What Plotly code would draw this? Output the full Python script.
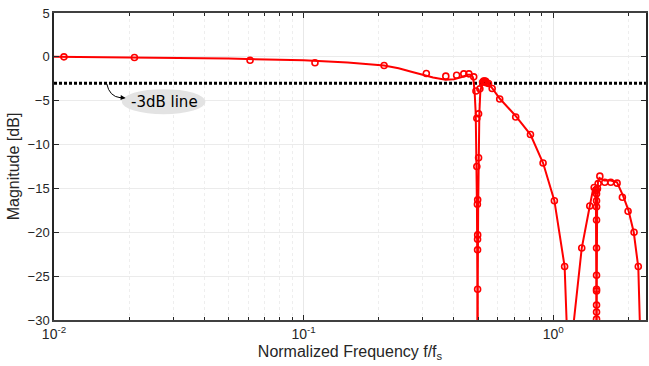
import plotly.graph_objects as go

# Magnitude response: smooth curve
curve_f = [0.01, 0.02, 0.05, 0.1, 0.15, 0.21, 0.24, 0.27, 0.3, 0.33, 0.37, 0.40, 0.43,
           0.455, 0.47, 0.476,
           0.479, 0.484, 0.489, 0.492, 0.4945, 0.4962, 0.4973, 0.4984, 0.5002, 0.5025,
           0.5055, 0.51, 0.518, 0.527, 0.537, 0.55, 0.57, 0.61, 0.70, 0.81, 0.91, 1.01,
           1.11, 1.13, 1.16,
           1.19, 1.21, 1.30, 1.40, 1.445, 1.47, 1.482, 1.486, 1.49, 1.494, 1.498, 1.51,
           1.53, 1.6, 1.7, 1.8, 1.9, 2.0, 2.1, 2.19, 2.22, 2.25]
curve_db = [0.0, -0.05, -0.2, -0.4, -0.65, -0.98, -1.3, -1.7, -2.05, -2.35, -2.6, -2.55, -2.3,
            -2.05, -2.05, -2.3,
            -2.7, -4.0, -6.5, -11.0, -17.0, -25.0, -50.0, -25.0, -17.0, -11.0,
            -6.5, -4.0, -3.0, -2.75, -2.85, -3.1, -3.6, -4.75, -6.6, -8.86, -12.1, -16.4,
            -23.9, -30.0, -40.0,
            -40.0, -30.0, -21.8, -17.0, -15.0, -14.8, -17.0, -25.0, -50.0, -25.0, -17.0, -14.2,
            -13.8, -14.1, -14.1, -14.3, -15.8, -17.5, -20.0, -24.0, -30.0, -40.0]

# Sampled points (circles)
samp_f = [0.01096, 0.0210, 0.061, 0.111, 0.21, 0.31, 0.371, 0.41, 0.438, 0.459, 0.48,
          0.490, 0.508, 0.521, 0.526, 0.531, 0.536, 0.539, 0.55, 0.569, 0.61, 0.707,
          0.81, 0.91, 1.01, 1.11,
          0.494, 0.494, 0.4965, 0.4973, 0.4973,
          0.502, 0.502, 0.4978, 0.4978, 0.4975,
          1.30, 1.40, 1.458, 1.481, 1.503, 1.512, 1.536, 1.608, 1.699, 1.801, 1.891,
          1.993, 2.106, 2.190,
          1.49, 1.49, 1.49, 1.49, 1.49, 1.49, 1.49, 1.49, 1.49, 1.49, 1.49, 1.49]
samp_db = [0.0, -0.08, -0.38, -0.68, -0.98, -1.9, -2.2, -2.1, -1.94, -1.94, -2.28,
           -3.9, -3.65, -2.9, -2.75, -2.75, -2.8, -2.95, -3.04, -3.6, -4.8, -6.85,
           -8.86, -12.1, -16.4, -23.9,
           -7.0, -12.5, -16.8, -20.8, -22.0,
           -6.5, -11.5, -16.3, -20.3, -26.5,
           -21.8, -17.0, -14.9, -15.2, -15.0, -14.45, -13.6, -14.3, -14.3, -14.4, -16.0,
           -17.6, -20.0, -23.9,
           -15.2, -15.6, -16.4, -17.1, -18.6, -21.8, -24.9, -26.5, -26.7, -28.3, -29.1, -29.9]

# -3 dB reference level
ref_f = [0.01, 2.35]
ref_db = [-3, -3]

x_major = [0.01, 0.1, 1]
x_major_text = ["10<sup>-2</sup>", "10<sup>-1</sup>", "10<sup>0</sup>"]
x_minor = [0.02, 0.03, 0.04, 0.05, 0.06, 0.07, 0.08, 0.09,
           0.2, 0.3, 0.4, 0.5, 0.6, 0.7, 0.8, 0.9, 2]
y_ticks = [5, 0, -5, -10, -15, -20, -25, -30]

RED = "#ff0000"
AX = "#262626"

fig = go.Figure()
fig.add_trace(go.Scatter(x=ref_f, y=ref_db, mode="lines",
                         line=dict(color="black", width=3, dash="3px,2px"),
                         hoverinfo="skip"))
fig.add_trace(go.Scatter(x=curve_f, y=curve_db, mode="lines",
                         line=dict(color=RED, width=2)))
fig.add_trace(go.Scatter(x=samp_f, y=samp_db, mode="markers",
                         marker=dict(symbol="circle-open", size=6, color=RED,
                                     line=dict(color=RED, width=1.6))))

# callout for the reference line
fig.add_shape(type="circle", xref="paper", yref="paper",
              x0=0.1145, x1=0.2559, y0=0.670, y1=0.752,
              fillcolor="#e3e3e3", line=dict(width=0), layer="above")
fig.add_shape(type="path", xref="paper", yref="paper",
              path="M 0.0892 0.769 Q 0.0935 0.728 0.112 0.724",
              line=dict(color="black", width=1))
fig.add_annotation(xref="paper", yref="paper", x=0.121, y=0.7235, ax=-8, ay=-0.5,
                   text="", showarrow=True, arrowhead=2, arrowsize=1,
                   arrowwidth=1, arrowcolor="black")
fig.add_annotation(xref="paper", yref="paper", x=0.187, y=0.711,
                   xanchor="center", yanchor="middle",
                   text="-3dB line", showarrow=False,
                   font=dict(family="DejaVu Sans", size=15, color="black"))

fig.update_layout(
    width=649, height=366,
    margin=dict(l=54, r=1, t=13, b=46),
    paper_bgcolor="white", plot_bgcolor="white",
    showlegend=False,
    font=dict(family="Liberation Sans", size=13, color=AX),
)
fig.update_xaxes(
    type="log", range=[-2, 0.3713],
    tickvals=x_major, ticktext=x_major_text,
    ticks="inside", ticklen=5, tickcolor=AX, tickwidth=1,
    showgrid=True, gridcolor="#e8e8e8", gridwidth=1,
    showline=True, linecolor="#404040", linewidth=1.5, mirror="ticks",
    zeroline=False,
    tickfont=dict(family="Liberation Sans", size=14, color=AX),
    minor=dict(tickvals=x_minor, ticks="inside", ticklen=3, tickcolor=AX,
               showgrid=True, gridcolor="#eeeeee", griddash="dot", gridwidth=1),
    title=dict(text="Normalized Frequency f/f<sub>s</sub>", standoff=5,
               font=dict(family="Liberation Sans", size=16, color=AX)),
)
fig.update_yaxes(
    range=[-30, 5], tickvals=y_ticks,
    ticks="inside", ticklen=5, tickcolor=AX, tickwidth=1,
    showgrid=True, gridcolor="#ebebeb", gridwidth=1,
    showline=True, linecolor=AX, linewidth=1.5, mirror="ticks",
    zeroline=False,
    tickfont=dict(family="Liberation Sans", size=13, color=AX),
    title=dict(text="Magnitude [dB]", standoff=4,
               font=dict(family="Liberation Sans", size=16, color=AX)),
)

fig.write_html("out.html")
